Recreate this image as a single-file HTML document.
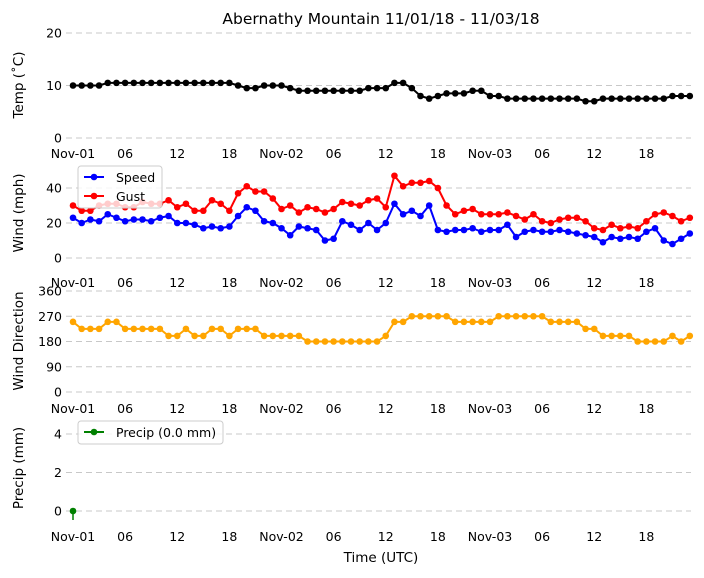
<!DOCTYPE html>
<html><head><meta charset="utf-8"><style>
body{margin:0;background:#fff}
svg text{font-family:"DejaVu Sans","Liberation Sans",sans-serif;fill:#000}
</style></head><body>
<svg id="c" width="704" height="573" viewBox="0 0 704 573" xmlns="http://www.w3.org/2000/svg">
<text x="381" y="24" font-size="15.5" text-anchor="middle">Abernathy Mountain 11/01/18 - 11/03/18</text>
<text x="381" y="562" font-size="13.5" text-anchor="middle">Time (UTC)</text>
</svg>
<script>
const hours = Array.from({length:72},(_,i)=>i);
const tempValues = [10,10,10,10,10.5,10.5,10.5,10.5,10.5,10.5,10.5,10.5,10.5,10.5,10.5,10.5,10.5,10.5,10.5,10,9.5,9.5,10,10,10,9.5,9,9,9,9,9,9,9,9,9.5,9.5,9.5,10.5,10.5,9.5,8,7.5,8,8.5,8.5,8.5,9,9,8,8,7.5,7.5,7.5,7.5,7.5,7.5,7.5,7.5,7.5,7,7,7.5,7.5,7.5,7.5,7.5,7.5,7.5,7.5,8,8,8];
const speedValues = [23,20,22,21,25,23,21,22,22,21,23,24,20,20,19,17,18,17,18,24,29,27,21,20,17,13,18,17,16,10,11,21,19,16,20,16,20,31,25,27,24,30,16,15,16,16,17,15,16,16,19,12,15,16,15,15,16,15,14,13,12,9,12,11,12,11,15,17,10,8,11,14];
const gustValues = [30,27,27,30,31,31,29,29,32,31,31,33,29,31,27,27,33,31,27,37,41,38,38,34,28,30,26,29,28,26,28,32,31,30,33,34,29,47,41,43,43,44,40,30,25,27,28,25,25,25,26,24,22,25,21,20,22,23,23,21,17,16,19,17,18,17,21,25,26,24,21,23];
const dirValues = [250,225,225,225,250,250,225,225,225,225,225,200,200,225,200,200,225,225,200,225,225,225,200,200,200,200,200,180,180,180,180,180,180,180,180,180,200,250,250,270,270,270,270,270,250,250,250,250,250,270,270,270,270,270,270,250,250,250,250,225,225,200,200,200,200,180,180,180,180,200,180,200];
const precipHours = [0];
const precipValues = [0];
const xTickLabels = ["Nov-01","06","12","18","Nov-02","06","12","18","Nov-03","06","12","18"];
const xTickHours = [0,6,12,18,24,30,36,42,48,54,60,66];

const NS="http://www.w3.org/2000/svg";
const svg=document.getElementById('c');
function mk(t,a,p){const e=document.createElementNS(NS,t);for(const k in a)e.setAttribute(k,a[k]);(p||svg).appendChild(e);return e;}
const xS=h=>73+h*(417/48);
const panels=[
 {name:'temp',y0:138,y1:33,v0:0,v1:20,ticks:[0,10,20],lbl:'Temp (˚C)',lblY:85,xl:158},
 {name:'wind',y0:258,y1:188,v0:0,v1:40,ticks:[0,20,40],lbl:'Wind (mph)',lblY:213,xl:287},
 {name:'dir',y0:392,y1:291,v0:0,v1:360,ticks:[0,90,180,270,360],lbl:'Wind Direction',lblY:341,xl:413},
 {name:'precip',y0:511,y1:434,v0:0,v1:4,ticks:[0,2,4],lbl:'Precip (mm)',lblY:468,xl:541}
];
panels.forEach(p=>{
 p.y=v=>p.y0+(v-p.v0)*(p.y1-p.y0)/(p.v1-p.v0);
 const g=mk('g',{});
 
 
 p.ticks.forEach(t=>{
  const l=mk('line',{x1:66,x2:691,y1:p.y(t),y2:p.y(t),stroke:'#c8c8c8','stroke-dasharray':'6,4'},g);
  
  
  const tx=mk('text',{x:62,y:p.y(t)+4.5,'font-size':12.5,'text-anchor':'end'},g);
  tx.textContent=t;
  
  
 });
 xTickHours.forEach((h,i)=>{
  const tx=mk('text',{x:xS(h),y:p.xl,'font-size':12.5,'text-anchor':'middle'},g);
  tx.textContent=xTickLabels[i];
  
  
 });
 const yl=mk('text',{x:0,y:0,'font-size':13.5,'text-anchor':'middle',transform:`translate(23,${p.lblY}) rotate(-90)`},g);
 yl.textContent=p.lbl;
 
 
});
function series(p,xs,vals,color,name,r){
 const g=mk('g',{});
 
 
 if(vals.length>1){
  const pl=mk('polyline',{points:vals.map((v,i)=>xS(xs[i])+','+p.y(v)).join(' '),fill:'none',stroke:color,'stroke-width':2},g);
  
  
 }
 vals.forEach((v,i)=>{
  const c=mk('circle',{cx:xS(xs[i]),cy:p.y(v),r:r||3.3,fill:color},g);
  
  
 });
}
series(panels[0],hours,tempValues,'#000','temp');
series(panels[1],hours,speedValues,'#0000ff','speed');
series(panels[1],hours,gustValues,'#ff0000','gust');
series(panels[2],hours,dirValues,'#ffa500','direction');
precipValues.forEach((v,i)=>{
 const l=mk('line',{x1:xS(precipHours[i]),x2:xS(precipHours[i]),y1:panels[3].y(v),y2:panels[3].y(v)+9,stroke:'#008000','stroke-width':1.5});
 
 
});
series(panels[3],precipHours,precipValues,'#008000','precip');
function legend(x,y,w,h,items,name){
 const g=mk('g',{});
 
 
 mk('rect',{x,y,width:w,height:h,rx:3,fill:'#fff','fill-opacity':0.8,stroke:'#ccc'},g);
 items.forEach((it,i)=>{
  const yy=y+11+i*19;
  mk('line',{x1:x+6,x2:x+26,y1:yy,y2:yy,stroke:it[1],'stroke-width':2},g);
  mk('circle',{cx:x+16,cy:yy,r:3.3,fill:it[1]},g);
  const t=mk('text',{x:x+38,y:yy+5,'font-size':12.5},g);
  t.textContent=it[0];
  
  
 });
}
legend(78,166,84,42,[['Speed','#0000ff'],['Gust','#ff0000']],'wind-legend');
legend(78,421,145,23,[['Precip (0.0 mm)','#008000']],'precip-legend');
</script>
</body></html>
